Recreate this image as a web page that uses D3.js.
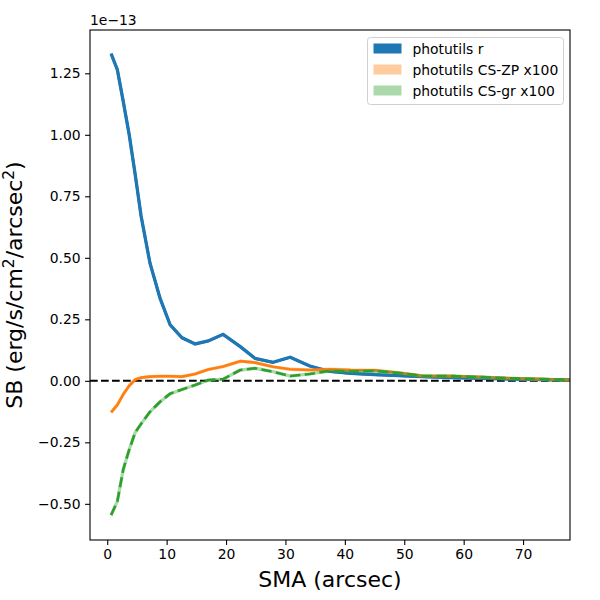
<!DOCTYPE html>
<html>
<head>
<meta charset="utf-8">
<script src="https://cdn.jsdelivr.net/npm/d3@7"></script>
<style>
  body { margin: 0; background: #fff; }
  svg text { font-family: "DejaVu Sans", sans-serif; fill: #000; }
</style>
</head>
<body>
<div id="chart"></div>
<script>
// SMA (arcsec)
const sma = [0.65, 1.7, 2.7, 3.7, 4.7, 5.7, 7.2, 8.9, 10.6, 12.6, 14.8, 17.0, 19.5, 22.4,
  24.9, 27.9, 30.8, 34.1, 37.5, 41, 45, 49, 53, 58, 63, 68, 73, 78];

// surface brightness, units of 1e-13
const sbR = [1.33, 1.265, 1.135, 1.0, 0.84, 0.67, 0.478, 0.335, 0.227, 0.175, 0.150, 0.162,
  0.189, 0.139, 0.091, 0.075, 0.096, 0.060, 0.038, 0.030, 0.025, 0.021, 0.017, 0.013,
  0.010, 0.007, 0.005, 0.003];
const sbZP = [-0.128, -0.098, -0.055, -0.02, 0.005, 0.013, 0.017, 0.0185, 0.0185, 0.017, 0.028,
  0.046, 0.058, 0.080, 0.074, 0.057, 0.047, 0.044, 0.047, 0.044, 0.043, 0.033, 0.020,
  0.019, 0.015, 0.010, 0.007, 0.003];
const sbGR = [-0.546, -0.49, -0.36, -0.28, -0.21, -0.175, -0.126, -0.085, -0.052, -0.035, -0.017,
  0.003, 0.007, 0.044, 0.051, 0.037, 0.0195, 0.028, 0.040, 0.038, 0.040, 0.032, 0.020,
  0.019, 0.015, 0.010, 0.007, 0.003];

const legendLabels = ["photutils r", "photutils CS-ZP x100", "photutils CS-gr x100"];
const xTicks = [0, 10, 20, 30, 40, 50, 60, 70];
const yTicks = [-0.5, -0.25, 0, 0.25, 0.5, 0.75, 1.0, 1.25];

(function () {
  const width = 600;
  const height = 600;
  const margin = { top: 30, right: 30, bottom: 60, left: 90 };

  const svg = d3.select("#chart").append("svg")
    .attr("width", width).attr("height", height);

  const x = d3.scaleLinear()
    .domain([-2.9, 77.9])
    .range([margin.left, width - margin.right]);

  const y = d3.scaleLinear()
    .domain([-0.647, 1.426])
    .range([height - margin.bottom, margin.top]);

  svg.append("clipPath").attr("id", "clip")
    .append("rect")
    .attr("x", margin.left).attr("y", margin.top)
    .attr("width", width - margin.left - margin.right)
    .attr("height", height - margin.top - margin.bottom);

  const plot = svg.append("g").attr("clip-path", "url(#clip)");

  const series = [
    { values: sbR, color: "#1f77b4", bandOpacity: 1, dash: null },
    { values: sbZP, color: "#ff7f0e", bandOpacity: 0.4, dash: null },
    { values: sbGR, color: "#2ca02c", bandOpacity: 0.4, dash: "10.3,4.4" },
  ];

  const line = d3.line()
    .x((d) => x(d[0]))
    .y((d) => y(d[1]));

  // zero line
  plot.append("line")
    .attr("x1", margin.left).attr("x2", width - margin.right)
    .attr("y1", y(0)).attr("y2", y(0))
    .attr("stroke", "#000")
    .attr("stroke-width", 2.1)
    .attr("stroke-dasharray", "7.7,3.3");

  series.forEach((s) => {
    const pts = sma.map((v, i) => [v, s.values[i]]);
    // error band (thin)
    plot.append("path")
      .attr("d", line(pts))
      .attr("fill", "none")
      .attr("stroke", s.color)
      .attr("stroke-opacity", s.bandOpacity)
      .attr("stroke-width", 3.3);
    plot.append("path")
      .attr("d", line(pts))
      .attr("fill", "none")
      .attr("stroke", s.color)
      .attr("stroke-width", 2.6)
      .attr("stroke-linejoin", "round")
      .attr("stroke-dasharray", s.dash);
  });

  // x-axis
  const xAxis = svg.append("g")
    .attr("transform", `translate(0, ${height - margin.bottom})`)
    .call(d3.axisBottom(x).tickValues(xTicks).tickSize(4.9).tickPadding(4.5));

  // y-axis
  const yAxis = svg.append("g")
    .attr("transform", `translate(${margin.left}, 0)`)
    .call(d3.axisLeft(y).tickValues(yTicks).tickSize(4.9).tickPadding(4.5)
      .tickFormat((d) => d3.format(".2f")(d).replace("-", "\u2212")));

  [xAxis, yAxis].forEach((a) => {
    a.select(".domain").remove();
    a.selectAll("line").attr("stroke", "#000").attr("stroke-width", 1.1);
    a.selectAll("text").style("font-size", "13.9px").attr("fill", "#000");
  });

  // frame
  svg.append("rect")
    .attr("x", margin.left).attr("y", margin.top)
    .attr("width", width - margin.left - margin.right)
    .attr("height", height - margin.top - margin.bottom)
    .attr("fill", "none")
    .attr("stroke", "#000")
    .attr("stroke-width", 1.1);

  // offset text
  svg.append("text")
    .attr("x", margin.left).attr("y", 25)
    .style("font-size", "13.9px")
    .text("1e\u221213");

  // axis labels
  svg.append("text")
    .attr("x", (margin.left + width - margin.right) / 2)
    .attr("y", 587)
    .attr("text-anchor", "middle")
    .style("font-size", "22px")
    .text("SMA (arcsec)");

  const yl = svg.append("text")
    .attr("transform", `translate(22, ${(margin.top + height - margin.bottom) / 2}) rotate(-90)`)
    .attr("text-anchor", "middle")
    .style("font-size", "22px");
  yl.append("tspan").text("SB (erg/s/cm");
  yl.append("tspan").attr("dy", -8).style("font-size", "15.4px").text("2");
  yl.append("tspan").attr("dy", 8).text("/arcsec");
  yl.append("tspan").attr("dy", -8).style("font-size", "15.4px").text("2");
  yl.append("tspan").attr("dy", 8).text(")");

  // legend
  const legend = svg.append("g").attr("transform", "translate(367.5, 37.5)");
  legend.append("rect")
    .attr("width", 196).attr("height", 67)
    .attr("rx", 3)
    .attr("fill", "#fff").attr("fill-opacity", 0.8)
    .attr("stroke", "#d0d0d0");

  legend.selectAll(".patch")
    .data(series)
    .enter()
    .append("rect")
    .attr("x", 6)
    .attr("y", (d, i) => 6 + i * 21)
    .attr("width", 28)
    .attr("height", 10)
    .attr("fill", (d) => d.color)
    .attr("fill-opacity", (d) => d.bandOpacity);

  legend.selectAll(".label")
    .data(legendLabels)
    .enter()
    .append("text")
    .attr("x", 45)
    .attr("y", (d, i) => 16 + i * 21)
    .style("font-size", "13.9px")
    .text((d) => d);
})();
</script>
</body>
</html>
